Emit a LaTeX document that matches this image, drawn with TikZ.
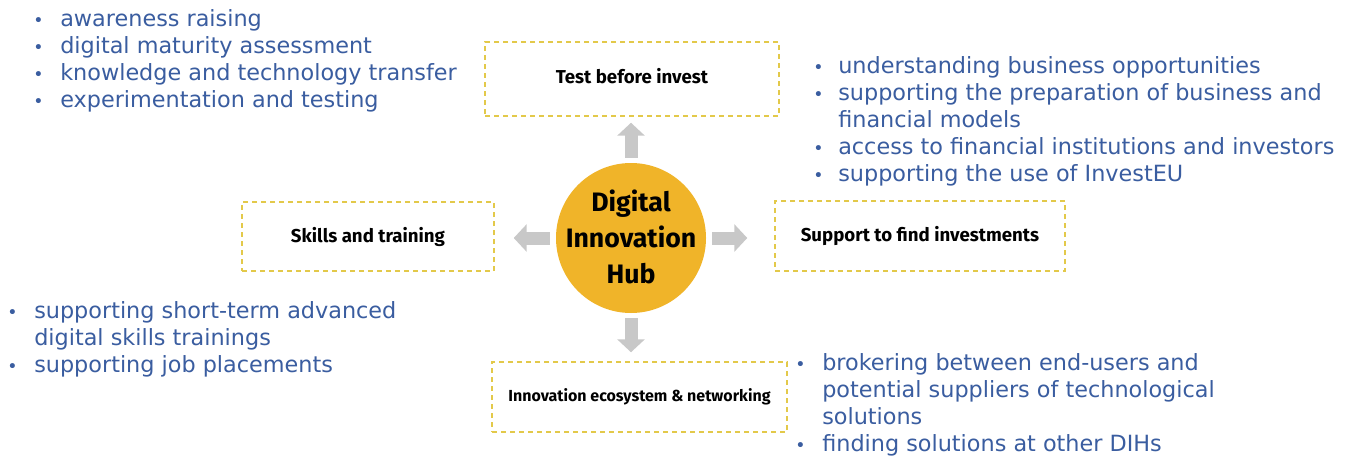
\documentclass[tikz,border=0pt]{standalone}
\usepackage{fontspec}
\setmainfont{DejaVu Sans}
\newfontfamily\boxfont{Fira Sans}
\usetikzlibrary{arrows.meta}
\definecolor{listblue}{HTML}{3A5DA0}
\definecolor{dashyellow}{HTML}{E3C94A}
\definecolor{hubgold}{HTML}{F0B429}
\definecolor{arrowgray}{HTML}{C8C8C8}
\newcommand{\bul}[1]{\makebox[#1][l]{{\fontsize{13}{13}\selectfont •}}}
\tikzset{
  listtext/.style={inner sep=0pt, anchor=north west, text=listblue, font=\fontsize{16.75}{20.25}\selectfont},
  topicbox/.style={draw=dashyellow, line width=1.1pt, dash pattern=on 3.75pt off 3pt, inner sep=0pt, font=\boxfont\bfseries\fontsize{14}{16}\selectfont, text=black},
  hubnode/.style={circle, fill=hubgold, inner sep=0pt, minimum size=112.5pt},
  hubtext/.style={inner sep=0pt, align=center, font=\boxfont\bfseries\fontsize{20}{27}\selectfont, text=black},
  blockarrow/.style={draw=arrowgray, line width=9.75pt, -{Triangle[width=20.25pt,length=9.75pt]}}
}
\begin{document}
\begin{tikzpicture}[x=0.75pt,y=-0.75pt]
\useasboundingbox[fill=white] (0,0) rectangle (1350,457);
% hub
\node[hubnode] (hub) at (631,238) {};
\node[hubtext] (hublabel) at (631,237) {Digital\\Innovation\\Hub};
% topic boxes
\node[topicbox, minimum width=220.5pt, minimum height=55.5pt] (test) at (632,79) {\raisebox{5.25pt}{Test before invest}};
\node[topicbox, minimum width=189pt, minimum height=51.75pt] (skills) at (368,236.5) {Skills and training};
\node[topicbox, minimum width=217.5pt, minimum height=52.5pt] (invest) at (920,236) {Support to find investments};
\node[topicbox, minimum width=221.25pt, minimum height=52.5pt, font=\boxfont\bfseries\fontsize{12}{14}\selectfont] (eco) at (639.5,397) {Innovation ecosystem \& networking};
% arrows
\draw[blockarrow, shorten <=3.75pt, shorten >=4.5pt] (hub.north) -- (hub.north |- test.south);
\draw[blockarrow, shorten <=4.5pt, shorten >=14.25pt] (hub.west) -- (hub.west -| skills.east);
\draw[blockarrow, shorten <=4.5pt, shorten >=20.25pt] (hub.east) -- (hub.east -| invest.west);
\draw[blockarrow, shorten <=3.75pt, shorten >=6.75pt] (hub.south) -- (hub.south |- eco.north);
% lists
\node[listtext] (listtl) at (33,7) {\begin{tabular}{@{}l@{}l@{}}
\bul{20.25pt}&awareness raising\\
\bul{20.25pt}&digital maturity assessment\\
\bul{20.25pt}&knowledge and technology transfer\\
\bul{20.25pt}&experimentation and testing
\end{tabular}};
\node[listtext] (listtr) at (813,54) {\begin{tabular}{@{}l@{}l@{}}
\bul{18.75pt}&understanding business opportunities\\
\bul{18.75pt}&supporting the preparation of business and\\
&financial models\\
\bul{18.75pt}&access to financial institutions and investors\\
\bul{18.75pt}&supporting the use of InvestEU
\end{tabular}};
\node[listtext] (listbl) at (7,299) {\begin{tabular}{@{}l@{}l@{}}
\bul{20.25pt}&supporting short-term advanced\\
&digital skills trainings\\
\bul{20.25pt}&supporting job placements
\end{tabular}};
\node[listtext] (listbr) at (795,351) {\begin{tabular}{@{}l@{}l@{}}
\bul{20.25pt}&brokering between end-users and\\
&potential suppliers of technological\\
&solutions\\
\bul{20.25pt}&finding solutions at other DIHs
\end{tabular}};
\end{tikzpicture}
\end{document}
